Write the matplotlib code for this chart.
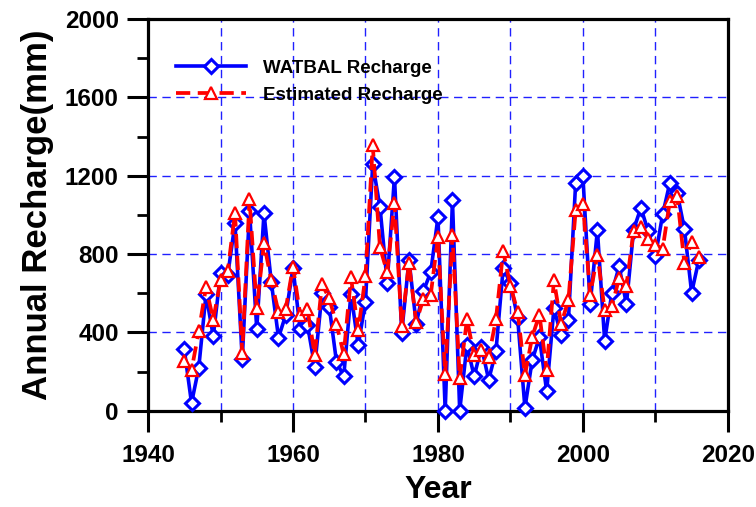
import matplotlib
matplotlib.use("Agg")
import matplotlib.pyplot as plt
from matplotlib.ticker import MultipleLocator

plt.rcParams['font.family'] = ['Liberation Sans', 'DejaVu Sans']
plt.rcParams['font.weight'] = 'bold'

years = list(range(1945, 2017))

watbal = [313, 39, 219, 594, 380, 702, 693, 957, 262, 1021,
          417, 1008, 659, 373, 489, 727, 415, 438, 225, 600,
          531, 250, 175, 598, 333, 557, 1260, 1040, 654, 1195,
          397, 770, 445, 612, 706, 988, 0, 1075, 0, 334,
          175, 325, 158, 303, 728, 651, 471, 14, 257, 375,
          99, 522, 385, 462, 1165, 1196, 545, 922, 356, 603,
          737, 543, 925, 1036, 916, 788, 1002, 1165, 1113, 928,
          603, 771]

estimated = [253, 206, 406, 630, 465, 665, 713, 1011, 296, 1080,
             523, 855, 665, 504, 520, 735, 487, 518, 285, 645,
             574, 443, 288, 681, 410, 686, 1355, 834, 706, 1060,
             432, 752, 452, 572, 591, 886, 185, 895, 166, 466,
             283, 308, 274, 466, 814, 637, 505, 180, 377, 490,
             206, 665, 442, 565, 1023, 1057, 591, 797, 514, 534,
             677, 638, 920, 939, 877, 848, 826, 1071, 1096, 754,
             860, 784]

fig = plt.figure(figsize=(7.56, 5.07), dpi=100)
ax = fig.add_axes([0.1958, 0.19, 0.767, 0.7725])

ax.plot(years, watbal, color='#0000ff', lw=2.6, marker='D', ms=7.5,
        mfc='white', mec='#0000ff', mew=2.2, label='WATBAL Recharge',
        clip_on=False, zorder=3)
ax.plot(years, estimated, color='#ff0000', lw=2.7, ls=(0, (3.8, 2.0)),
        marker='^', ms=9, mfc='white', mec='#ff0000', mew=1.6,
        label='Estimated Recharge', clip_on=False, zorder=4)

ax.set_xlim(1940, 2020)
ax.set_ylim(0, 2000)
ax.xaxis.set_major_locator(MultipleLocator(20))
ax.xaxis.set_minor_locator(MultipleLocator(10))
ax.yaxis.set_major_locator(MultipleLocator(400))
ax.yaxis.set_minor_locator(MultipleLocator(200))

ax.grid(True, axis='x', which='both', color='#2020ff', lw=1.0, ls=(0, (6, 4)), zorder=0)
ax.grid(True, axis='y', which='major', color='#2020ff', lw=1.0, ls=(0, (6, 4)), zorder=0)
ax.set_axisbelow(True)

for s in ax.spines.values():
    s.set_linewidth(2.3)

ax.tick_params(which='major', direction='out', length=15, width=2.2, labelsize=17.5, pad=6)
ax.tick_params(axis='x', which='major', pad=9)
ax.tick_params(which='minor', direction='out', length=8, width=2.0)

ax.set_xlabel('Year', fontsize=23, fontweight='bold', labelpad=6)
ax.set_ylabel('Annual Recharge(mm)', fontsize=25, fontweight='bold', labelpad=8)

ax.legend(loc='upper left', bbox_to_anchor=(0.02, 0.94), frameon=False,
          prop={'size': 13.5, 'weight': 'bold'}, handlelength=3.7,
          handletextpad=0.9, labelspacing=0.55)

fig.savefig('out.png', dpi=100)
